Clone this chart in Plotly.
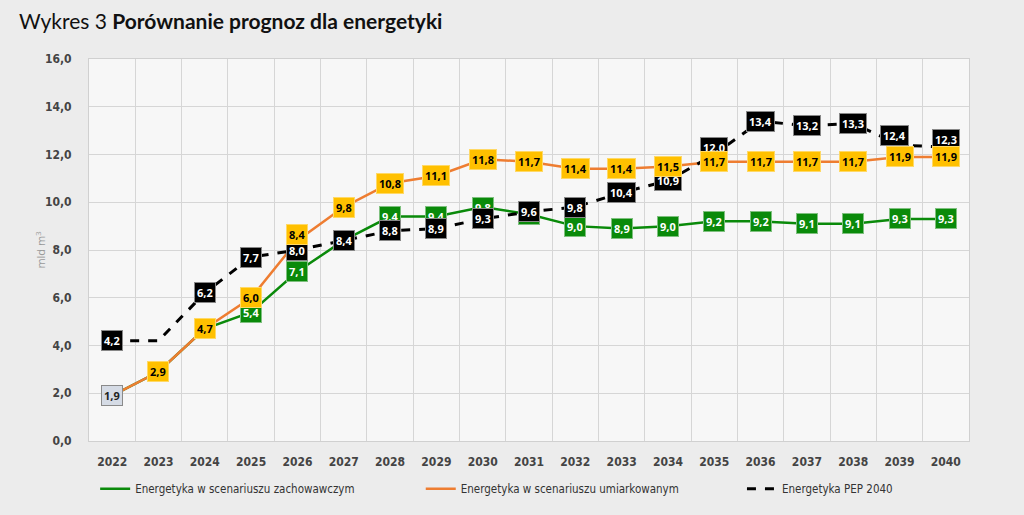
import plotly.graph_objects as go

years = list(range(2022, 2041))
zach = [1.9, 2.9, 4.7, 5.4, 7.1, 8.4, 9.4, 9.4, 9.8, 9.5, 9.0, 8.9, 9.0, 9.2, 9.2, 9.1, 9.1, 9.3, 9.3]
umiark = [1.9, 2.9, 4.7, 6.0, 8.4, 9.8, 10.8, 11.1, 11.8, 11.7, 11.4, 11.4, 11.5, 11.7, 11.7, 11.7, 11.7, 11.9, 11.9]
pep = [4.2, 4.2, 6.2, 7.7, 8.0, 8.4, 8.8, 8.9, 9.3, 9.6, 9.8, 10.4, 10.9, 12.0, 13.4, 13.2, 13.3, 12.4, 12.3]

names = ["Energetyka w scenariuszu zachowawczym",
         "Energetyka w scenariuszu umiarkowanym",
         "Energetyka PEP 2040"]
y_ticks = [0, 2, 4, 6, 8, 10, 12, 14, 16]

# label offsets (px) for a few crowded labels: (series, year) -> (xshift, yshift)
label_shift = {("pep", 2035): (0, 7), ("pep", 2039): (-5, 9), ("pep", 2040): (0, 8),
               ("umiark", 2026): (0, 6)}
skip_labels = {("pep", 2023)}

GREEN = "#0a8a0a"
ORANGE = "#ee7d31"
GOLD = "#ffc000"
FONT = "DejaVu Sans Condensed, Liberation Sans Narrow, Arial"

fig = go.Figure()
fig.add_trace(go.Scatter(x=years, y=zach, name=names[0], mode="lines", legend="legend",
                         line=dict(color=GREEN, width=2.5)))
fig.add_trace(go.Scatter(x=years, y=umiark, name=names[1], mode="lines", legend="legend2",
                         line=dict(color=ORANGE, width=2.5)))
fig.add_trace(go.Scatter(x=years, y=pep, name=names[2], mode="lines", legend="legend3",
                         line=dict(color="black", width=3, dash="dash")))

def fmt(v):
    return f"{v:.1f}".replace(".", ",")

annots = []
def add_labels(key, vals, bg, fg, border):
    for i, (x, v) in enumerate(zip(years, vals)):
        if (key, x) in skip_labels:
            continue
        if key in ("zach", "umiark") and i == 0:
            continue
        xs, ys = label_shift.get((key, x), (0, 0))
        annots.append(dict(x=x, y=v, text=fmt(v), showarrow=False,
                           font=dict(family="Open Sans, Arial", size=11, color=fg, weight="bold"),
                           bgcolor=bg, bordercolor=border, borderwidth=1, borderpad=2,
                           xshift=xs, yshift=ys))

add_labels("zach", zach, GREEN, "white", "#7fc07f")
add_labels("pep", pep, "black", "white", "#888888")
add_labels("umiark", umiark, GOLD, "black", "#ffd966")
annots.append(dict(x=years[0], y=umiark[0], text=fmt(umiark[0]), showarrow=False,
                   font=dict(family="Open Sans, Arial", size=11, color="#222", weight="bold"),
                   bgcolor="#d5dbe5", bordercolor="#8a8a8a", borderwidth=1, borderpad=2))

annots.append(dict(xref="paper", yref="paper", x=-0.082, y=1.10, xanchor="left", yanchor="middle",
                   text="Wykres 3 <b>Porównanie prognoz dla energetyki</b>", showarrow=False,
                   font=dict(family="Lato, Open Sans", size=21, color="#111")))
annots.append(dict(xref="paper", yref="paper", x=-0.055, y=0.5, xanchor="center", yanchor="middle",
                   text="mld m<sup>3</sup>", showarrow=False, textangle=-90,
                   font=dict(family="Open Sans, Arial", size=11, color="#999")))

leg_common = dict(orientation="h", y=-0.125, xanchor="left", yanchor="middle",
                  bgcolor="rgba(0,0,0,0)", font=dict(family=FONT, size=11.5, color="#333"))

half = [y + 0.5 for y in range(2021, 2041)]

fig.update_layout(
    width=1024, height=515,
    margin=dict(l=89, r=55, t=59, b=71),
    paper_bgcolor="#ececec", plot_bgcolor="#f7f7f7",
    separators=", ",
    showlegend=True,
    legend=dict(x=0.007, **leg_common),
    legend2=dict(x=0.377, **leg_common),
    legend3=dict(x=0.742, **leg_common),
    annotations=annots,
    xaxis=dict(range=[2021.5, 2040.5], tickvals=years, showgrid=False,
               minor=dict(tickvals=half, showgrid=True, gridcolor="#d6d6d6", gridwidth=1, ticks=""),
               showline=True, linecolor="#d0d0d0", mirror=True, ticks="", zeroline=False,
               ticklabelstandoff=10,
               tickfont=dict(family=FONT, size=12, color="#444", weight="bold")),
    yaxis=dict(range=[0, 16], tickvals=y_ticks, tickformat=".1f", showgrid=True, gridcolor="#d6d6d6",
               gridwidth=1, showline=True, linecolor="#d0d0d0", mirror=True, zeroline=False, ticks="",
               ticklabelstandoff=14,
               tickfont=dict(family=FONT, size=12, color="#444", weight="bold")),
)

fig.write_html("out.html")
